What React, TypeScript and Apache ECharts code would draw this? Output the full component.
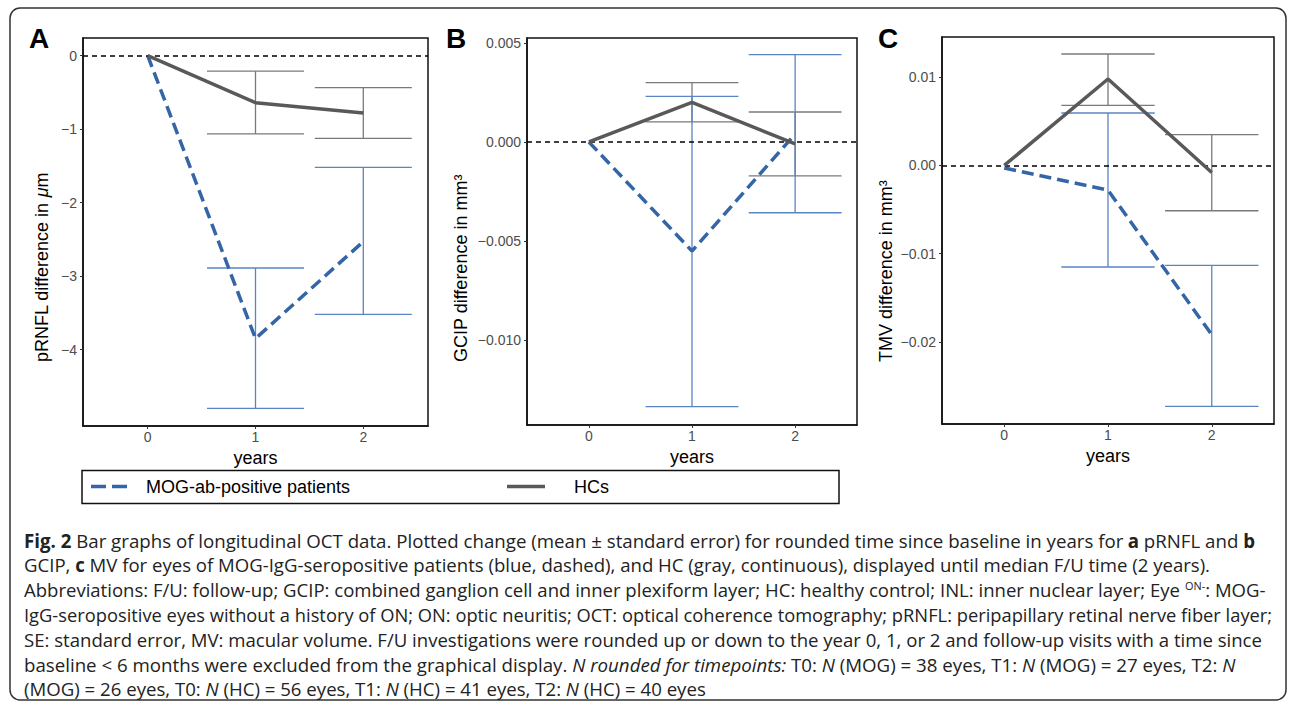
import React, { useEffect, useRef } from "react";
import * as echarts from "echarts";

// ---- data ----
const years = [0, 1, 2];

// Panel A: pRNFL (µm)
const mogA = [0, -3.85, -2.53];
const mogALo = [null, -4.8, -3.52];
const mogAHi = [null, -2.89, -1.52];
const hcA = [0, -0.64, -0.78];
const hcALo = [null, -1.065, -1.125];
const hcAHi = [null, -0.21, -0.435];

// Panel B: GCIP (mm³)
const mogB = [0, -0.0055, 0.0004];
const mogBLo = [null, -0.01334, -0.00357];
const mogBHi = [null, 0.0023, 0.0044];
const hcB = [0, 0.002, -0.0001];
const hcBLo = [null, 0.00101, -0.00171];
const hcBHi = [null, 0.00299, 0.00151];

// Panel C: TMV (mm³)
const mogC = [-0.0003, -0.0028, -0.0192];
const mogCLo = [null, -0.01152, -0.02732];
const mogCHi = [null, 0.00594, -0.01134];
const hcC = [0, 0.0098, -0.0008];
const hcCLo = [null, 0.0068, -0.00514];
const hcCHi = [null, 0.01263, 0.00348];

// tick labels
const xTicks = [0, 1, 2];
const yTicksA = [0, -1, -2, -3, -4];
const yTicksB = [0.005, 0, -0.005, -0.01];
const yTicksC = [0.01, 0, -0.01, -0.02];

const panelLetters = ["A", "B", "C"];
const legendNames = ["MOG-ab-positive patients", "HCs"];

const captionLines = [
  "{b|Fig. 2} Bar graphs of longitudinal OCT data. Plotted change (mean ± standard error) for rounded time since baseline in years for {b|a} pRNFL and {b|b}",
  "GCIP, {b|c} MV for eyes of MOG-IgG-seropositive patients (blue, dashed), and HC (gray, continuous), displayed until median F/U time (2 years).",
  "Abbreviations: F/U: follow-up; GCIP: combined ganglion cell and inner plexiform layer; HC: healthy control; INL: inner nuclear layer; Eye {s|ON-}: MOG-",
  "IgG-seropositive eyes without a history of ON; ON: optic neuritis; OCT: optical coherence tomography; pRNFL: peripapillary retinal nerve fiber layer;",
  "SE: standard error, MV: macular volume. F/U investigations were rounded up or down to the year 0, 1, or 2 and follow-up visits with a time since",
  "baseline < 6 months were excluded from the graphical display. {i|N rounded for timepoints:} T0: {i|N} (MOG) = 38 eyes, T1: {i|N} (MOG) = 27 eyes, T2: {i|N}",
  "(MOG) = 26 eyes, T0: {i|N} (HC) = 56 eyes, T1: {i|N} (HC) = 41 eyes, T2: {i|N} (HC) = 40 eyes",
];
// right edge (px) of each caption line in the reference (layout)
const captionRight = [1255, 1210, 1266, 1272, 1262, 1236, 706];

// ---- styling ----
const BLUE = "#3465a6";
const BLUE_EB = "#5a85c3";
const GRAY = "#595959";
const GRAY_EB = "#7a7a7a";
const AX_FONT = "'Liberation Sans', Arial, Helvetica, sans-serif";
const CAP_FONT = "'Open Sans', 'Noto Sans', sans-serif";
const CAP_SIZE = 18.7;
const SUP_SIZE = 11;

const minus = (s: string) => s.replace("-", "\u2212");

function measureRich(line: string): number {
  const canvas = document.createElement("canvas");
  const ctx = canvas.getContext("2d");
  if (!ctx) return 0;
  const re = /\{(\w)\|([^}]*)\}/g;
  let last = 0;
  let total = 0;
  const seg = (text: string, kind: string) => {
    let style = "normal";
    let weight = "normal";
    let size = CAP_SIZE;
    if (kind === "b") weight = "bold";
    if (kind === "i") style = "italic";
    if (kind === "s") size = SUP_SIZE;
    ctx.font = `${style} ${weight} ${size}px ${CAP_FONT}`;
    total += ctx.measureText(text).width;
  };
  let m: RegExpExecArray | null;
  while ((m = re.exec(line))) {
    if (m.index > last) seg(line.slice(last, m.index), "");
    seg(m[2], m[1]);
    last = m.index + m[0].length;
  }
  if (last < line.length) seg(line.slice(last), "");
  return total;
}

export default function App() {
  const ref = useRef<HTMLDivElement>(null);

  useEffect(() => {
    if (!ref.current) return;
    const chart = echarts.init(ref.current, null, { renderer: "svg" });

    const panels = [
      {
        grid: { left: 83, top: 38, width: 345, height: 388 },
        yMin: -5.04, yMax: 0.24, yTicks: yTicksA,
        fmt: (v: number) => (v === 0 ? "0" : minus(String(v))),
        mog: mogA, mogLo: mogALo, mogHi: mogAHi,
        hc: hcA, hcLo: hcALo, hcHi: hcAHi,
        letterX: 29, titleX: 42,
        title: "pRNFL difference in {i|\u03bc}m",
      },
      {
        grid: { left: 527, top: 38, width: 330, height: 387 },
        yMin: -0.01427, yMax: 0.00524, yTicks: yTicksB,
        fmt: (v: number) => minus(v.toFixed(3)),
        mog: mogB, mogLo: mogBLo, mogHi: mogBHi,
        hc: hcB, hcLo: hcBLo, hcHi: hcBHi,
        letterX: 446, titleX: 461,
        title: "GCIP difference in mm\u00b3",
      },
      {
        grid: { left: 942, top: 37, width: 332, height: 387 },
        yMin: -0.02932, yMax: 0.01456, yTicks: yTicksC,
        fmt: (v: number) => minus(v.toFixed(2)),
        mog: mogC, mogLo: mogCLo, mogHi: mogCHi,
        hc: hcC, hcLo: hcCLo, hcHi: hcCHi,
        letterX: 878, titleX: 886,
        title: "TMV difference in mm\u00b3",
      },
    ];

    const errorBarSeries = (idx: number, lo: (number | null)[], hi: (number | null)[], color: string, z: number) => ({
      type: "custom",
      xAxisIndex: idx,
      yAxisIndex: idx,
      z,
      silent: true,
      encode: { x: 0, y: [1, 2] },
      data: years
        .map((x, i) => [x, lo[i], hi[i]])
        .filter((d) => d[1] !== null && d[2] !== null),
      renderItem: (_params: any, api: any) => {
        const x = api.value(0);
        const top = api.coord([x, api.value(2)]);
        const bot = api.coord([x, api.value(1)]);
        const half = api.size([0.45, 0])[0];
        const style = { stroke: color, lineWidth: 1.3 };
        return {
          type: "group",
          children: [
            { type: "line", shape: { x1: top[0], y1: top[1], x2: bot[0], y2: bot[1] }, style },
            { type: "line", shape: { x1: top[0] - half, y1: top[1], x2: top[0] + half, y2: top[1] }, style },
            { type: "line", shape: { x1: bot[0] - half, y1: bot[1], x2: bot[0] + half, y2: bot[1] }, style },
          ],
        };
      },
    });

    const grids: any[] = [];
    const xAxes: any[] = [];
    const yAxes: any[] = [];
    const series: any[] = [];
    const graphics: any[] = [];

    panels.forEach((p, idx) => {
      grids.push({ ...p.grid, show: true, borderColor: "#111", borderWidth: 1.5, backgroundColor: "transparent" });
      xAxes.push({
        type: "value",
        gridIndex: idx,
        position: "bottom",
        min: -0.6,
        max: 2.6,
        name: "years",
        nameLocation: "middle",
        nameGap: 10,
        nameTextStyle: { fontSize: 18, color: "#000", fontFamily: AX_FONT },
        axisLine: { show: true, onZero: false, lineStyle: { color: "#111", width: 1.5 } },
        splitLine: { show: false },
        axisTick: { show: true, inside: false, length: 3, customValues: xTicks, lineStyle: { color: "#333" } },
        axisLabel: { customValues: xTicks, fontSize: 14, color: "#4d4d4d", fontFamily: AX_FONT, margin: 4 },
      });
      yAxes.push({
        type: "value",
        gridIndex: idx,
        position: "left",
        min: p.yMin,
        max: p.yMax,
        axisLine: { show: true, onZero: false, lineStyle: { color: "#111", width: 1.5 } },
        splitLine: { show: false },
        axisTick: { show: true, inside: false, length: 3, customValues: p.yTicks, lineStyle: { color: "#333" } },
        axisLabel: {
          customValues: p.yTicks,
          fontSize: 14,
          color: "#4d4d4d",
          fontFamily: AX_FONT,
          margin: 6,
          formatter: p.fmt,
        },
      });

      series.push(errorBarSeries(idx, p.hcLo, p.hcHi, GRAY_EB, 2));
      series.push(errorBarSeries(idx, p.mogLo, p.mogHi, BLUE_EB, 3));
      series.push({
        type: "line",
        name: legendNames[0],
        xAxisIndex: idx,
        yAxisIndex: idx,
        z: 4,
        silent: true,
        symbol: "none",
        data: years.map((x, i) => [x, p.mog[i]]),
        lineStyle: { color: BLUE, width: 3.5, type: [12, 6] },
        markLine: {
          silent: true,
          symbol: "none",
          label: { show: false },
          lineStyle: { color: "#000", type: [5, 4], width: 1.5 },
          data: [{ yAxis: 0 }],
        },
      });
      series.push({
        type: "line",
        name: legendNames[1],
        xAxisIndex: idx,
        yAxisIndex: idx,
        z: 5,
        silent: true,
        symbol: "none",
        data: years.map((x, i) => [x, p.hc[i]]),
        lineStyle: { color: GRAY, width: 3.5 },
      });

      graphics.push({
        type: "text",
        x: p.letterX,
        y: 38,
        style: { text: panelLetters[idx], fontSize: 28, fontWeight: "bold", fill: "#000", fontFamily: AX_FONT, verticalAlign: "middle", align: "left" },
      });
      graphics.push({
        type: "text",
        x: p.titleX,
        y: 362,
        rotation: Math.PI / 2,
        style: {
          text: p.title,
          fontSize: 18,
          fill: "#000",
          fontFamily: AX_FONT,
          align: "left",
          verticalAlign: "middle",
          rich: { i: { fontStyle: "italic", fontSize: 18, fontFamily: AX_FONT, fill: "#000" } },
        },
      });
    });

    // outer frame
    graphics.push({
      type: "rect",
      shape: { x: 10, y: 8, width: 1276, height: 692, r: 10 },
      style: { fill: "none", stroke: "#333", lineWidth: 1.5 },
      z: -1,
    });

    // legend
    graphics.push({
      type: "rect",
      shape: { x: 82, y: 470.5, width: 757, height: 33 },
      style: { fill: "none", stroke: "#111", lineWidth: 1.5 },
    });
    graphics.push({
      type: "line",
      shape: { x1: 91, y1: 486.5, x2: 130, y2: 486.5 },
      style: { stroke: BLUE, lineWidth: 3.5, lineDash: [15, 6] },
    });
    graphics.push({
      type: "text",
      x: 146,
      y: 486.5,
      style: { text: legendNames[0], fontSize: 18, fill: "#000", fontFamily: AX_FONT, verticalAlign: "middle" },
    });
    graphics.push({
      type: "line",
      shape: { x1: 507, y1: 486.5, x2: 545, y2: 486.5 },
      style: { stroke: GRAY, lineWidth: 3.5 },
    });
    graphics.push({
      type: "text",
      x: 574,
      y: 486.5,
      style: { text: legendNames[1], fontSize: 18, fill: "#000", fontFamily: AX_FONT, verticalAlign: "middle" },
    });

    // caption
    captionLines.forEach((line, i) => {
      const natural = measureRich(line);
      const target = captionRight[i] - 24;
      const sx = natural > 0 ? Math.min(1.15, Math.max(0.85, target / natural)) : 1;
      graphics.push({
        type: "text",
        x: 24,
        y: 540 + i * 24.8,
        scaleX: sx,
        style: {
          text: line,
          fontSize: CAP_SIZE,
          fill: "#222",
          fontFamily: CAP_FONT,
          verticalAlign: "middle",
          align: "left",
          rich: {
            b: { fontWeight: "bold", fontSize: CAP_SIZE, fontFamily: CAP_FONT, fill: "#222" },
            i: { fontStyle: "italic", fontSize: CAP_SIZE, fontFamily: CAP_FONT, fill: "#222" },
            s: { fontSize: SUP_SIZE, fontFamily: CAP_FONT, fill: "#222", verticalAlign: "top", padding: [0, 0, 8, 0] },
          },
        },
      });
    });

    chart.setOption({
      animation: false,
      backgroundColor: "#fff",
      grid: grids,
      xAxis: xAxes,
      yAxis: yAxes,
      series,
      graphic: graphics,
    });

    return () => chart.dispose();
  }, []);

  return (
    <div
      ref={ref}
      style={{ position: "absolute", left: 0, top: 0, width: 1292, height: 708, background: "#fff" }}
    />
  );
}
